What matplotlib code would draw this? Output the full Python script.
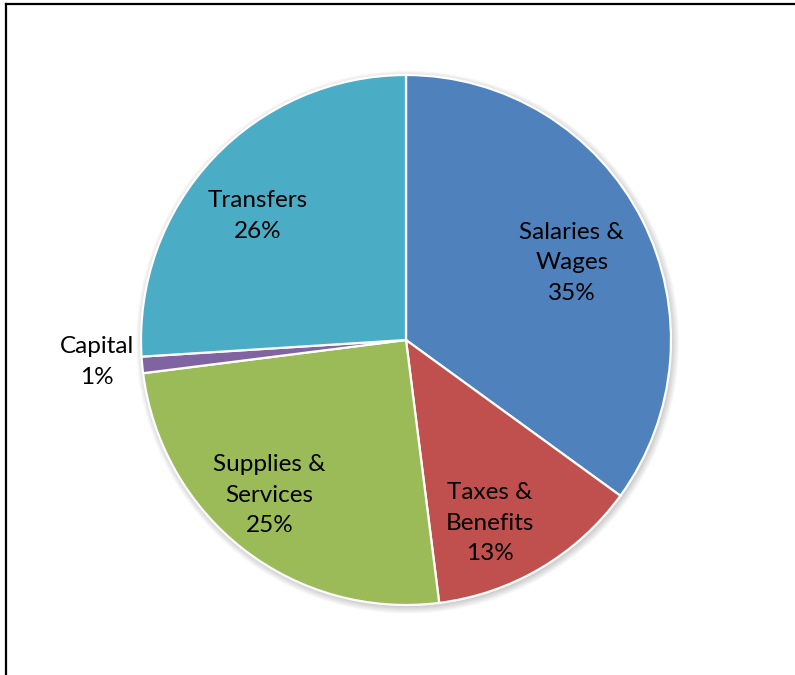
import numpy as np
import matplotlib
matplotlib.use("Agg")
import matplotlib.pyplot as plt
from matplotlib.patches import Circle
from matplotlib.lines import Line2D

# Budget breakdown by expense category
categories = ["Salaries &\nWages", "Taxes &\nBenefits", "Supplies &\nServices", "Capital", "Transfers"]
shares = [35, 13, 25, 1, 26]
colors = ["#4F81BD", "#C0504D", "#9BBB59", "#8064A2", "#4BACC6"]

# label placement: distance from centre (in radii) and a small angular nudge
label_radius = [0.69, 0.76, 0.78, 1.17, 0.73]
label_nudge_deg = [-2.0, -6.0, -3.5, -1.3, 3.4]

W, H, DPI = 795, 675, 100
fig = plt.figure(figsize=(W / DPI, H / DPI), dpi=DPI)
ax = fig.add_axes([0, 0, 1, 1])

R_PX = 265.0
cx, cy = 406.0, 340.0

# soft drop shadow under the pie
for k in range(8):
    ax.add_patch(Circle((0.006, -0.008), 1.0 + 0.0035 * k, color="black",
                        alpha=0.025, lw=0, zorder=0))

wedges, _ = ax.pie(shares, colors=colors, startangle=90, counterclock=False,
                   radius=1.0, center=(0, 0), frame=True,
                   wedgeprops=dict(edgecolor="white", linewidth=1.6))
ax.set_xlim(-cx / R_PX, (W - cx) / R_PX)
ax.set_ylim(-(H - cy) / R_PX, cy / R_PX)
ax.set_axis_off()
for w in wedges:
    w.set_zorder(2)

total = float(sum(shares))
for w, name, v, r, nd in zip(wedges, categories, shares, label_radius, label_nudge_deg):
    mid = np.deg2rad(0.5 * (w.theta1 + w.theta2) + nd)
    ax.text(r * np.cos(mid), r * np.sin(mid), f"{name}\n{v / total:.0%}",
            ha="center", va="center", fontsize=17.5, family="Lato",
            linespacing=1.55, color="black", zorder=3)

# frame lines along the top and left edges
fig.add_artist(Line2D([5.5 / W, 1.0], [1 - 3.8 / H, 1 - 3.8 / H],
                      transform=fig.transFigure, color="black", lw=1.6))
fig.add_artist(Line2D([5.8 / W, 5.8 / W], [0.0, 1 - 3.8 / H],
                      transform=fig.transFigure, color="black", lw=1.6))

fig.savefig("out.png", dpi=DPI)
